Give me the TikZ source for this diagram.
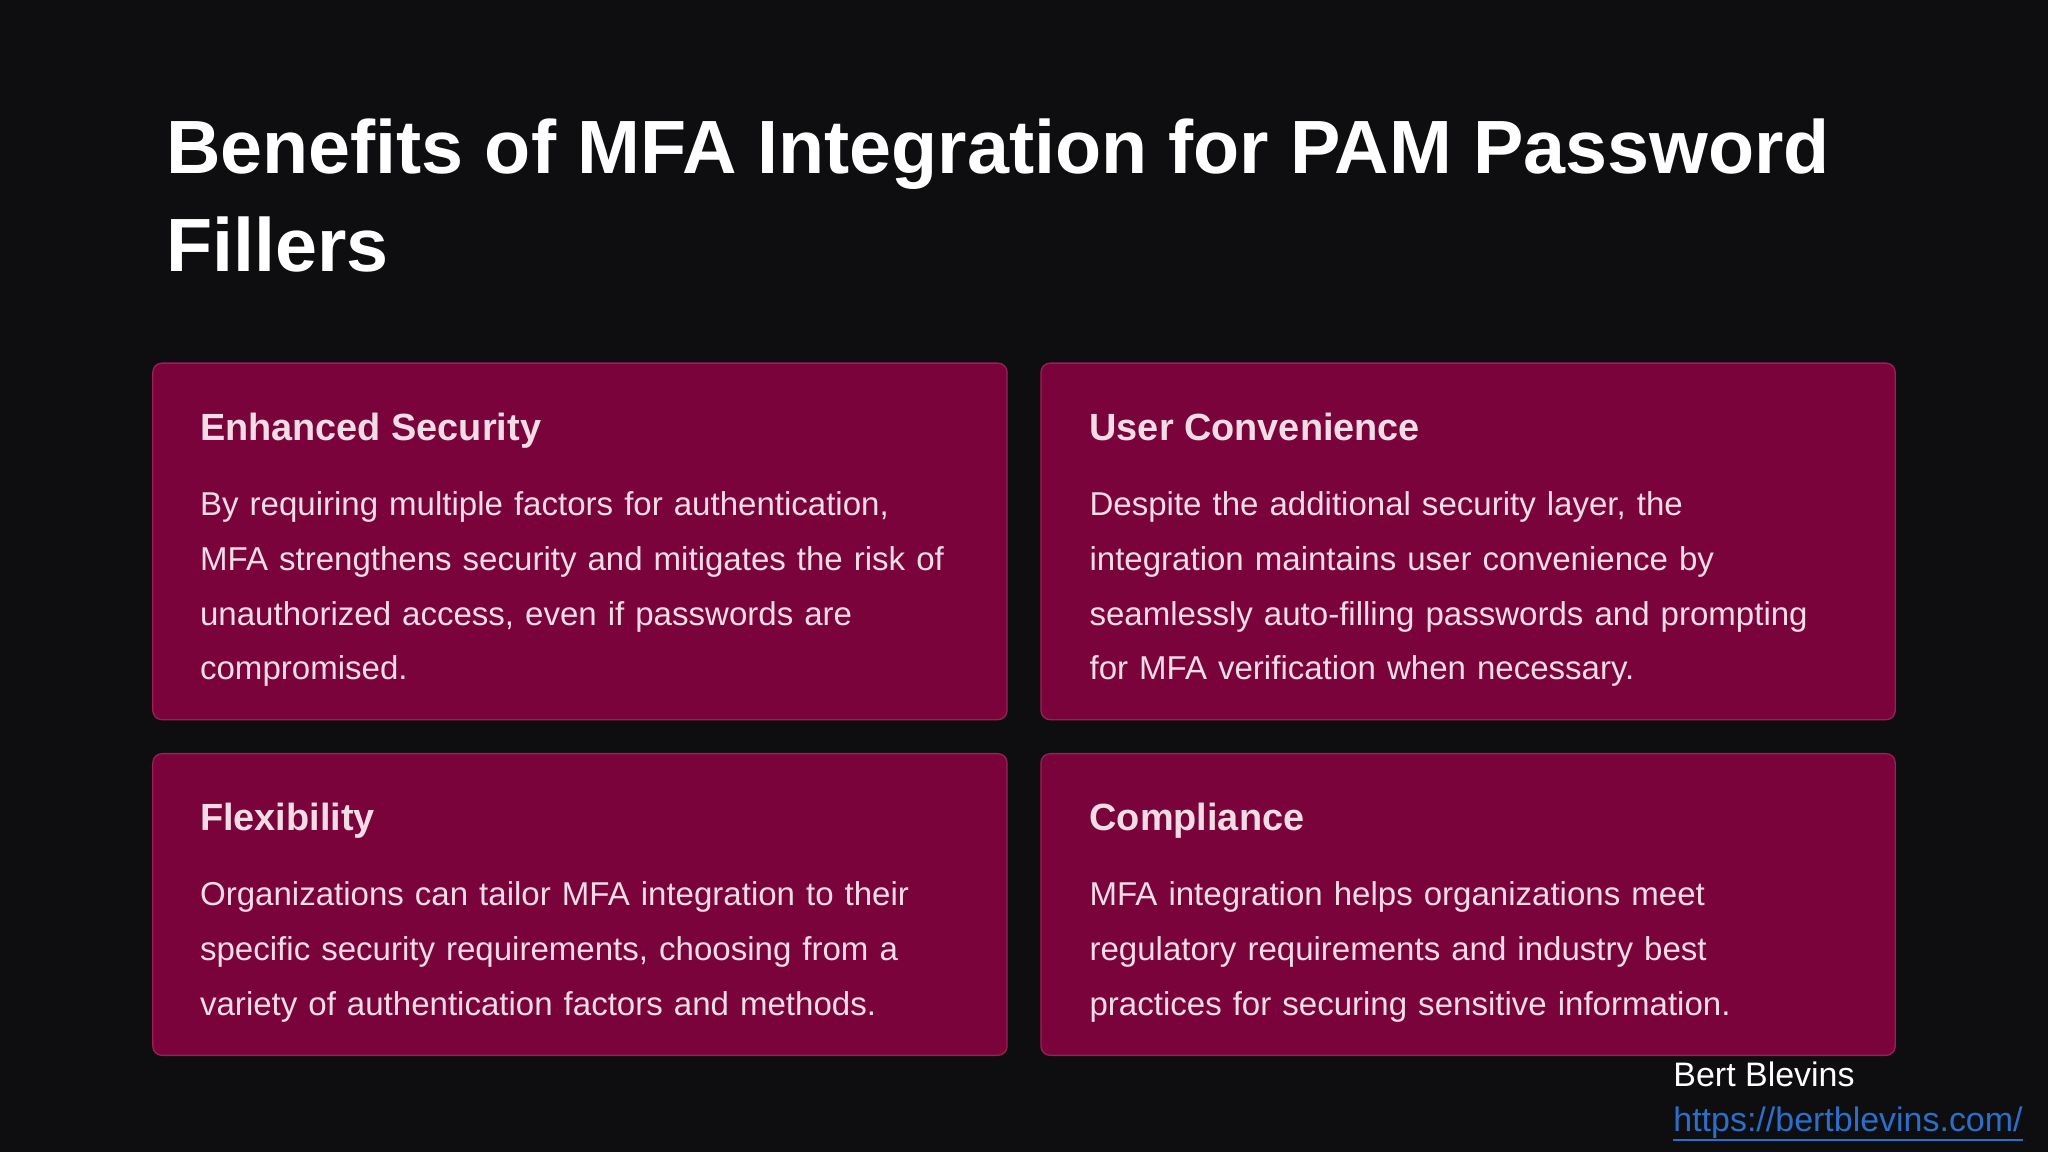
\documentclass[tikz,border=0pt]{standalone}
\usepackage{fontspec}
\setmainfont{Liberation Sans}
\definecolor{bg}{HTML}{0E0E10}
\definecolor{card}{HTML}{7B033B}
\definecolor{cardline}{HTML}{9A1F55}
\definecolor{bodytxt}{HTML}{F2DDE6}
\definecolor{linkc}{HTML}{2A6FC9}
\begin{document}
\begin{tikzpicture}[x=1pt,y=-1pt,
  cardbox/.style={draw=cardline,line width=1pt,fill=card,rounded corners=7pt},
  headtxt/.style={anchor=north west,inner sep=0pt,text=bodytxt,font=\fontsize{29}{34}\selectfont\bfseries},
  bodytext/.style={anchor=north west,inner sep=0pt,text=bodytxt,text width=620pt,align=left,font=\fontsize{25.3}{42}\selectfont}]
\fill[bg] (0,0) rectangle (1568,882);
\useasboundingbox (0,0) rectangle (1568,882);
\node[anchor=north west,inner sep=0pt,text=white,align=left,font=\fontsize{57.8}{75}\selectfont\bfseries] (title) at (127,91) {Benefits of MFA Integration for PAM Password\\Fillers};
\draw[cardbox] (117,278) rectangle (771,551);
\draw[cardbox] (797,278) rectangle (1451,551);
\draw[cardbox] (117,577) rectangle (771,808);
\draw[cardbox] (797,577) rectangle (1451,808);
\node[headtxt] (h1) at (153,316) {Enhanced Security};
\node[bodytext] (b1) at (153,376) {By requiring multiple factors for authentication,\\MFA strengthens security and mitigates the risk of\\unauthorized access, even if passwords are\\compromised.};
\node[headtxt] (h2) at (834,316) {User Convenience};
\node[bodytext] (b2) at (834,376) {Despite the additional security layer, the\\integration maintains user convenience by\\seamlessly auto-filling passwords and prompting\\for MFA verification when necessary.};
\node[headtxt] (h3) at (153,615) {Flexibility};
\node[bodytext] (b3) at (153,675) {Organizations can tailor MFA integration to their\\specific security requirements, choosing from a\\variety of authentication factors and methods.};
\node[headtxt] (h4) at (834,615) {Compliance};
\node[bodytext] (b4) at (834,675) {MFA integration helps organizations meet\\regulatory requirements and industry best\\practices for securing sensitive information.};
\node[anchor=north west,inner sep=0pt,text=white,font=\fontsize{26}{30}\selectfont] (auth) at (1281,813) {Bert Blevins};
\node[anchor=north west,inner sep=0pt,text=linkc,font=\fontsize{26}{30}\selectfont] (link) at (1281,847) {https://bertblevins.com/};
\draw[linkc,line width=1.2pt] ([yshift=-1pt]link.south west) -- ([yshift=-1pt]link.south east);
\end{tikzpicture}
\end{document}
